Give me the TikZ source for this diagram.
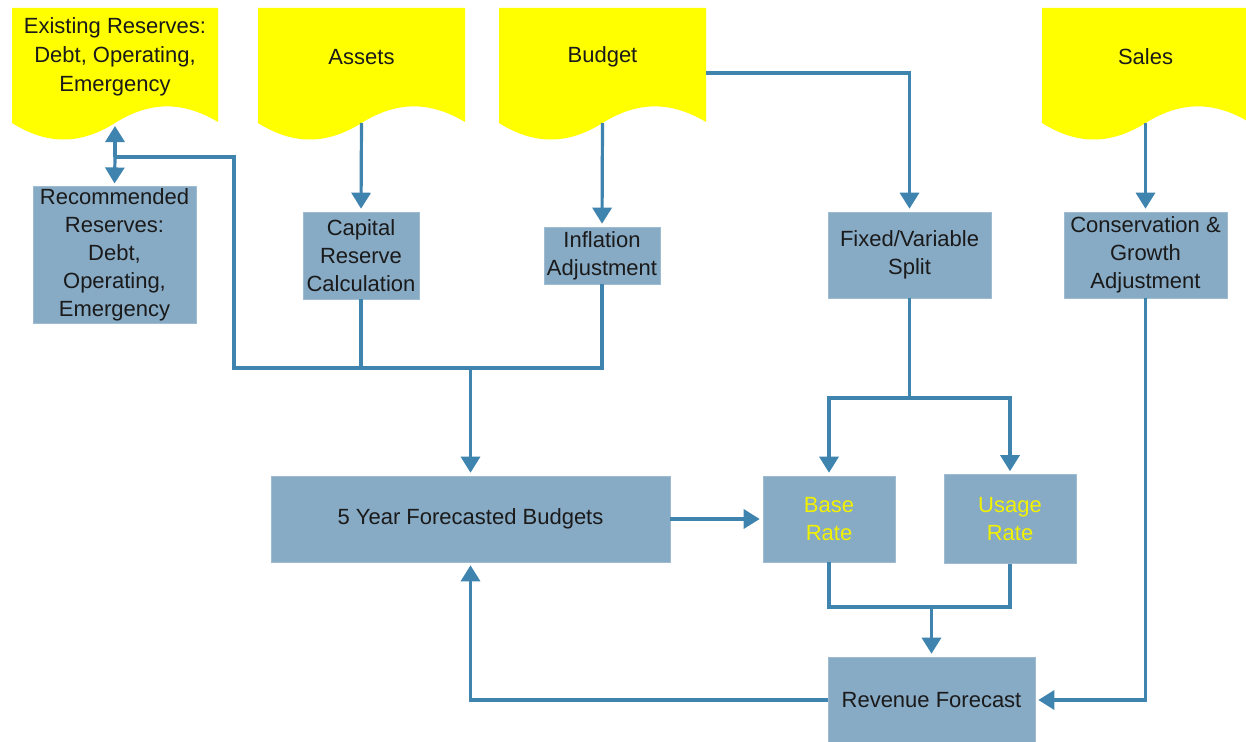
\documentclass[tikz,border=0pt]{standalone}
\usepackage{fontspec}
\setmainfont{Liberation Sans}
\usetikzlibrary{arrows.meta}
\definecolor{boxblue}{HTML}{87AAC5}
\definecolor{linkblue}{HTML}{3E84AE}
\definecolor{docyellow}{HTML}{FFFF00}
\definecolor{txt}{HTML}{1A1A1A}
\definecolor{ratetxt}{HTML}{F2F200}
\tikzset{
  box/.style={rectangle, fill=boxblue, draw=boxblue!80!white, line width=0.6pt, inner sep=2pt, align=center, text=txt,
    font=\fontsize{22}{28}\selectfont},
  doctext/.style={align=center, text=txt, inner sep=0pt, font=\fontsize{22}{29}\selectfont},
  conn/.style={draw=linkblue, line width=3.2pt},
  arr/.style={conn, -{Triangle[width=19pt,length=16pt]}, shorten >=3pt},
}
% document shape: #1 left x, #2 right x
\newcommand{\docshape}[2]{%
  \fill[docyellow] (#1,8) -- (#2,8) -- (#2,122)
    .. controls ({#2-0.17*(#2-#1)},101) and ({#2-0.33*(#2-#1)},101) .. ({0.5*(#1+#2)},123)
    .. controls ({#1+0.33*(#2-#1)},145) and ({#1+0.17*(#2-#1)},145) .. (#1,123) -- cycle;}
\begin{document}
\begin{tikzpicture}[x=1pt,y=-1pt]
\path[use as bounding box] (0,0) rectangle (1246,741);
\fill[white] (0,0) rectangle (1246,741);

% documents
\docshape{12}{218}
\docshape{258}{465}
\docshape{499}{706}
\docshape{1042}{1249}
\node[doctext] (exist) at (115,57) {Existing Reserves:\\Debt, Operating,\\Emergency};
\node[doctext] (assets) at (361.5,57) {Assets};
\node[doctext] (budget) at (602.5,57) {Budget};
\node[doctext] (sales) at (1145.5,57) {Sales};
\coordinate (existB) at (115,123);
\coordinate (assetsB) at (361.5,123);
\coordinate (budgetB) at (602.5,123);
\coordinate (budgetR) at (706,73);
\coordinate (salesB) at (1145.5,123);

% boxes
\node[box, minimum width=163pt, minimum height=132pt] (rec) at (114.5,255) {Recommended\\Reserves:\\Debt,\\Operating,\\Emergency};
\node[box, minimum width=116pt, minimum height=87pt] (cap) at (361,255.5) {Capital\\Reserve\\Calculation};
\node[box, minimum width=116pt, minimum height=57pt] (inf) at (602,255.5) {Inflation\\Adjustment};
\node[box, minimum width=163pt, minimum height=86pt] (fvs) at (909.5,255) {Fixed/Variable\\Split};
\node[box, minimum width=163pt, minimum height=86pt] (cons) at (1145.5,255) {Conservation \&\\Growth\\Adjustment};
\node[box, minimum width=399pt, minimum height=86pt] (fyb) at (470.5,519) {5 Year Forecasted Budgets};
\node[box, minimum width=132pt, minimum height=86pt, text=ratetxt] (base) at (829,519) {Base\\Rate};
\node[box, minimum width=132pt, minimum height=89pt, text=ratetxt] (usage) at (1010,519) {Usage\\Rate};
\node[box, minimum width=207pt, minimum height=86pt] (rev) at (931.5,700) {Revenue Forecast};

% junction coordinates
\coordinate (resJ) at (115,157);
\coordinate (collect) at (470.5,368);
\coordinate (split) at (909.5,398);
\coordinate (merge) at (931.5,607);

% connectors
\draw[arr] (assetsB) -- (cap.north);
\draw[arr] (budgetB) -- (inf.north);
\draw[arr] (budgetR) -| (fvs.north);
\draw[arr] (salesB) -- (cons.north);

\draw[conn] (cap.south) -- (cap.south |- collect);
\draw[conn] (inf.south) |- (234,368) -- (234,157) -- (resJ);
\draw[arr] (resJ) -- (existB);
\draw[arr] (resJ) -- (rec.north);
\draw[arr] (collect) -- (fyb.north);

\draw[conn] (fvs.south) -- (split);
\draw[arr] (split) -| (base.north);
\draw[arr] (split) -| (usage.north);

\draw[conn] (base.south) |- (merge);
\draw[conn] (usage.south) |- (merge);
\draw[arr] (merge) -- (rev.north);

\draw[arr] (fyb.east) -- (base.west);
\draw[arr] (cons.south) |- (rev.east);
\draw[arr] (rev.west) -| (fyb.south);
\end{tikzpicture}
\end{document}
